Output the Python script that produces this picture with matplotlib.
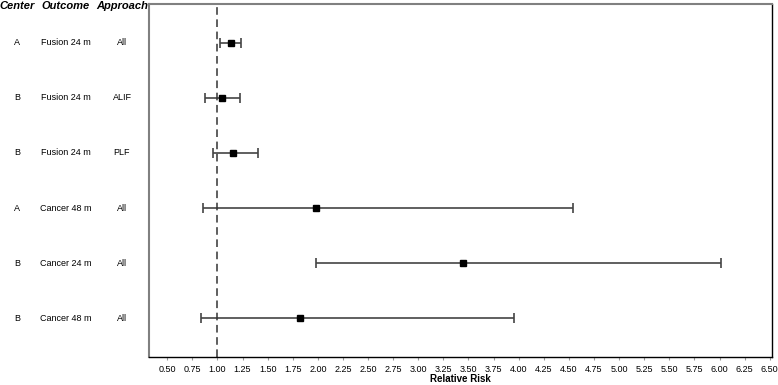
import matplotlib.pyplot as plt
import numpy as np

plt.rcParams['font.family'] = ['Liberation Sans', 'DejaVu Sans']

# Study rows, top to bottom
centers = ['A', 'B', 'B', 'A', 'B', 'B']
outcomes = ['Fusion 24 m', 'Fusion 24 m', 'Fusion 24 m', 'Cancer 48 m', 'Cancer 24 m', 'Cancer 48 m']
approaches = ['All', 'ALIF', 'PLF', 'All', 'All', 'All']

# Relative risk with confidence limits
rr = np.array([1.14, 1.05, 1.16, 1.98, 3.45, 1.82])
lower = np.array([1.03, 0.88, 0.96, 0.855, 1.98, 0.84])
upper = np.array([1.24, 1.23, 1.40, 4.54, 6.01, 3.955])

xticks = np.arange(0.5, 6.51, 0.25)

fig = plt.figure(figsize=(7.78, 3.85), dpi=100)
ax = fig.add_axes([0.191, 0.0727, 0.801, 0.917])

ypos = np.arange(1, len(rr) + 1)
ax.errorbar(rr, ypos, xerr=[rr - lower, upper - rr], fmt='none', ecolor='#444444',
            elinewidth=1.2, capsize=3.6, capthick=1.2)
ax.plot(rr, ypos, 's', color='black', markersize=5)
ax.axvline(1.0, color='#333333', linestyle=(0, (5, 3)), linewidth=1.1)

ax.set_xlim(0.315, 6.52)
ax.set_ylim(6.7, 0.3)
ax.set_yticks([])
ax.set_xticks(xticks)
ax.set_xticklabels(['%.2f' % t for t in xticks], fontsize=6.5)
ax.tick_params(axis='x', length=2, color='#999999', pad=3.5)
ax.set_xlabel('Relative Risk', fontsize=7, fontweight='bold', labelpad=0.5)

for side in ['left', 'top']:
    ax.spines[side].set_color('#808080')
    ax.spines[side].set_linewidth(1.5)
for side in ['right', 'bottom']:
    ax.spines[side].set_color('black')
    ax.spines[side].set_linewidth(1.0)

# Left-hand table
col_x = [17, 66, 122]
headers = ['Center', 'Outcome', 'Approach']
for cx, h in zip(col_x, headers):
    fig.text(cx / 778, 1 - 6 / 385, h, ha='center', va='center', fontsize=8,
             fontweight='bold', style='italic')
for i, y in enumerate(ypos):
    fy = ax.transData.transform((0, y))[1] / fig.bbox.height
    fig.text(col_x[0] / 778, fy, centers[i], ha='center', va='center', fontsize=6.5)
    fig.text(col_x[1] / 778, fy, outcomes[i], ha='center', va='center', fontsize=6.5)
    fig.text(col_x[2] / 778, fy, approaches[i], ha='center', va='center', fontsize=6.5)

fig.savefig('out.png', dpi=100)
